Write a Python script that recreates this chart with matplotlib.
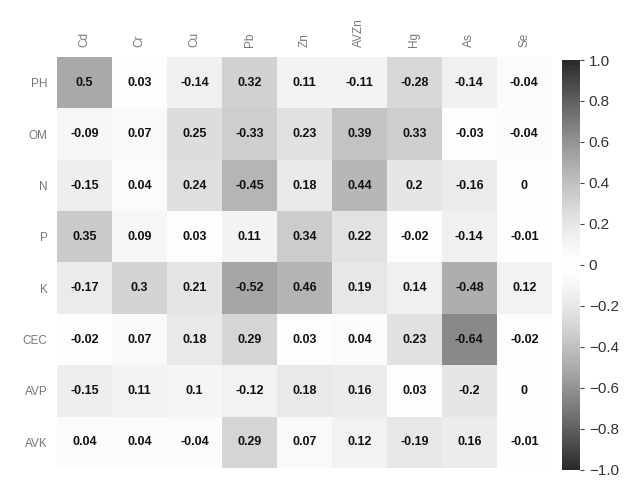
import numpy as np
import matplotlib.pyplot as plt
from matplotlib.colors import ListedColormap

plt.rcParams['font.family'] = ['Liberation Sans', 'DejaVu Sans']

# soil properties (rows) vs heavy metals (columns)
rows = ['PH', 'OM', 'N', 'P', 'K', 'CEC', 'AVP', 'AVK']
cols = ['Cd', 'Cr', 'Cu', 'Pb', 'Zn', 'AVZn', 'Hg', 'As', 'Se']

ph = [0.5, 0.03, -0.14, 0.32, 0.11, -0.11, -0.28, -0.14, -0.04]
om = [-0.09, 0.07, 0.25, -0.33, 0.23, 0.39, 0.33, -0.03, -0.04]
n = [-0.15, 0.04, 0.24, -0.45, 0.18, 0.44, 0.2, -0.16, 0]
p = [0.35, 0.09, 0.03, 0.11, 0.34, 0.22, -0.02, -0.14, -0.01]
k = [-0.17, 0.3, 0.21, -0.52, 0.46, 0.19, 0.14, -0.48, 0.12]
cec = [-0.02, 0.07, 0.18, 0.29, 0.03, 0.04, 0.23, -0.64, -0.02]
avp = [-0.15, 0.11, 0.1, -0.12, 0.18, 0.16, 0.03, -0.2, 0]
avk = [0.04, 0.04, -0.04, 0.29, 0.07, 0.12, -0.19, 0.16, -0.01]

corr = np.array([ph, om, n, p, k, cec, avp, avk])

# symmetric gray map: white at 0, dark at +-1, lighter near zero
x = np.linspace(-1, 1, 256)
lev = 1 - 0.84 * np.abs(x) ** 1.35
cmap = ListedColormap(np.column_stack([lev, lev, lev]))

fig = plt.figure(figsize=(6.35, 4.8), dpi=100)
ax = fig.add_axes([0.09, 0.025, 0.779, 0.856])
im = ax.imshow(corr, cmap=cmap, vmin=-1, vmax=1, aspect='auto')

for i in range(len(rows)):
    for j in range(len(cols)):
        v = corr[i, j]
        txt = '0' if v == 0 else f'{v:g}'
        ax.text(j, i, txt, ha='center', va='center', fontsize=9,
                fontweight='bold', color='#111111')

ax.set_xticks(range(len(cols)))
ax.set_xticklabels(cols, rotation=90, color='#777777', fontsize=8.5)
ax.set_yticks(range(len(rows)))
ax.set_yticklabels(rows, color='#777777', fontsize=8.5)
ax.xaxis.tick_top()
ax.tick_params(length=0, pad=7)
for s in ax.spines.values():
    s.set_visible(False)

cax = fig.add_axes([0.885, 0.021, 0.028, 0.854])
cb = fig.colorbar(im, cax=cax, ticks=[1.0, 0.8, 0.6, 0.4, 0.2, 0, -0.2, -0.4, -0.6, -0.8, -1.0])
cb.ax.set_yticklabels(['1.0', '0.8', '0.6', '0.4', '0.2', '0', '\u22120.2', '\u22120.4',
                       '\u22120.6', '\u22120.8', '\u22121.0'])
cb.ax.tick_params(labelsize=11, length=3, color='#444444', labelcolor='#333333')
cb.outline.set_visible(False)

fig.savefig('out.png', dpi=100)
